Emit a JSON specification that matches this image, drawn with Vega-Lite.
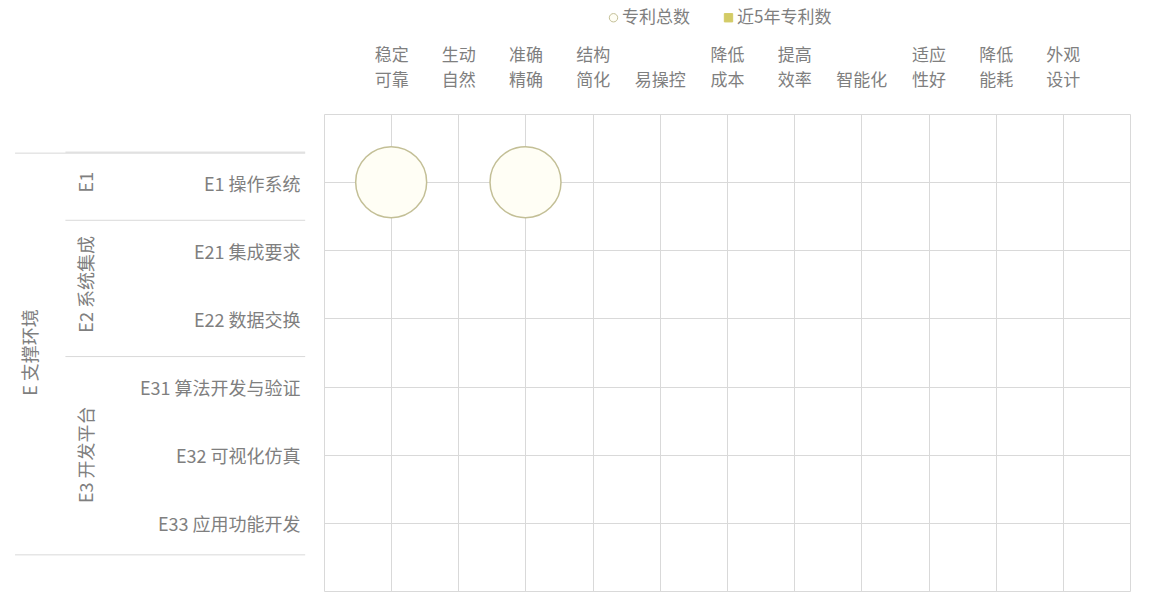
{
  "$schema": "https://vega.github.io/schema/vega-lite/v6.json",
  "autosize": {"type": "none"},
  "padding": {"left": 324, "top": 114, "right": 23, "bottom": 4},
  "width": 806,
  "height": 477,
  "background": "white",
  "config": {
    "font": "Noto Sans CJK SC",
    "view": {"stroke": "#d9d9d9", "strokeWidth": 1},
    "text": {"font": "Noto Sans CJK SC"}
  },
  "datasets": {
    "rows": [
      {"序号": 1, "一级": "E 支撑环境", "二级": "E1", "三级": "E1 操作系统"},
      {"序号": 2, "一级": "E 支撑环境", "二级": "E2 系统集成", "三级": "E21 集成要求"},
      {"序号": 3, "一级": "E 支撑环境", "二级": "E2 系统集成", "三级": "E22 数据交换"},
      {"序号": 4, "一级": "E 支撑环境", "二级": "E3 开发平台", "三级": "E31 算法开发与验证"},
      {"序号": 5, "一级": "E 支撑环境", "二级": "E3 开发平台", "三级": "E32 可视化仿真"},
      {"序号": 6, "一级": "E 支撑环境", "二级": "E3 开发平台", "三级": "E33 应用功能开发"}
    ],
    "cells": [
      {"三级": "E1 操作系统", "效果": "稳定可靠", "专利总数": 1, "近5年专利数": 0},
      {"三级": "E1 操作系统", "效果": "准确精确", "专利总数": 1, "近5年专利数": 0}
    ]
  },
  "layer": [
    {
      "data": {"name": "cells"},
      "transform": [
        {"fold": ["专利总数", "近5年专利数"], "as": ["指标", "数量"]},
        {"filter": "datum['数量'] > 0"}
      ],
      "mark": {"type": "point", "filled": true, "strokeWidth": 1.5, "opacity": 1},
      "encoding": {
        "x": {
          "field": "效果", "type": "nominal",
          "scale": {"type": "point", "padding": 1,
            "domain": ["稳定可靠", "生动自然", "准确精确", "结构简化", "易操控", "降低成本", "提高效率", "智能化", "适应性好", "降低能耗", "外观设计"]},
          "axis": {
            "orient": "top", "title": null, "ticks": false, "domain": false,
            "grid": true, "gridColor": "#d9d9d9", "gridWidth": 1,
            "labelAngle": 0, "labelFontSize": 17, "labelColor": "#7f7f7f",
            "labelFont": "Noto Sans CJK SC", "labelPadding": 59, "labelLineHeight": 25,
            "labelBaseline": "middle",
            "labelExpr": "length(datum.label) == 4 ? [substring(datum.label, 0, 2), substring(datum.label, 2, 4)] : ['', datum.label]"
          }
        },
        "y": {
          "field": "三级", "type": "nominal",
          "scale": {"type": "point", "padding": 1,
            "domain": ["E1 操作系统", "E21 集成要求", "E22 数据交换", "E31 算法开发与验证", "E32 可视化仿真", "E33 应用功能开发"]},
          "axis": {
            "title": null, "ticks": false, "domain": false,
            "grid": true, "gridColor": "#d9d9d9", "gridWidth": 1,
            "labelFontSize": 18, "labelColor": "#7f7f7f", "labelFont": "Noto Sans CJK SC",
            "labelPadding": 24, "labelOffset": 3
          }
        },
        "size": {"field": "数量", "type": "quantitative", "scale": {"domain": [0, 1], "range": [0, 5040]}, "legend": null},
        "fill": {
          "field": "指标", "type": "nominal",
          "scale": {"domain": ["专利总数", "近5年专利数"], "range": ["#fffef5", "#d3cb66"]},
          "legend": {
            "orient": "none", "legendX": 281, "legendY": -105, "direction": "horizontal",
            "title": null, "labelFontSize": 17, "labelColor": "#7f7f7f", "labelFont": "Noto Sans CJK SC",
            "symbolSize": 70, "symbolStrokeWidth": 1, "columnPadding": 30, "labelOffset": 0
          }
        },
        "stroke": {
          "field": "指标", "type": "nominal",
          "scale": {"domain": ["专利总数", "近5年专利数"], "range": ["#c3bf96", "#d3cb66"]}
        },
        "shape": {
          "field": "指标", "type": "nominal",
          "scale": {"domain": ["专利总数", "近5年专利数"], "range": ["circle", "square"]}
        }
      }
    },
    {
      "data": {"name": "rows"},
      "transform": [{"aggregate": [{"op": "mean", "field": "序号", "as": "中心"}], "groupby": ["二级"]}],
      "mark": {"type": "text", "angle": 270, "fontSize": 18, "color": "#7f7f7f", "align": "center", "baseline": "middle"},
      "encoding": {
        "x": {"datum": -3.52, "type": "quantitative", "scale": {"domain": [0, 12], "nice": false, "zero": false}, "axis": null},
        "y": {"field": "中心", "type": "quantitative", "scale": {"domain": [0, 7], "reverse": true, "nice": false, "zero": false}, "axis": null},
        "text": {"field": "二级"}
      }
    },
    {
      "data": {"name": "rows"},
      "transform": [{"aggregate": [{"op": "mean", "field": "序号", "as": "中心"}], "groupby": ["一级"]}],
      "mark": {"type": "text", "angle": 270, "fontSize": 18, "color": "#7f7f7f", "align": "center", "baseline": "middle"},
      "encoding": {
        "x": {"datum": -4.35, "type": "quantitative", "scale": {"domain": [0, 12], "nice": false, "zero": false}, "axis": null},
        "y": {"field": "中心", "type": "quantitative", "scale": {"domain": [0, 7], "reverse": true, "nice": false, "zero": false}, "axis": null},
        "text": {"field": "一级"}
      }
    },
    {
      "data": {"name": "rows"},
      "transform": [{"aggregate": [{"op": "min", "field": "序号", "as": "首行"}], "groupby": ["二级"]}],
      "mark": {"type": "rule", "color": "#d9d9d9", "strokeWidth": 1, "yOffset": -30},
      "encoding": {
        "x": {"datum": -3.85, "type": "quantitative", "scale": {"domain": [0, 12], "nice": false, "zero": false}, "axis": null},
        "x2": {"datum": -0.28},
        "y": {"field": "首行", "type": "quantitative", "scale": {"domain": [0, 7], "reverse": true, "nice": false, "zero": false}, "axis": null}
      }
    },
    {
      "data": {"name": "rows"},
      "transform": [{"aggregate": [{"op": "min", "field": "序号", "as": "首行"}], "groupby": ["一级"]}],
      "mark": {"type": "rule", "color": "#d9d9d9", "strokeWidth": 1, "yOffset": -29},
      "encoding": {
        "x": {"datum": -4.6, "type": "quantitative", "scale": {"domain": [0, 12], "nice": false, "zero": false}, "axis": null},
        "x2": {"datum": -0.28},
        "y": {"field": "首行", "type": "quantitative", "scale": {"domain": [0, 7], "reverse": true, "nice": false, "zero": false}, "axis": null}
      }
    },
    {
      "data": {"name": "rows"},
      "transform": [{"aggregate": [{"op": "max", "field": "序号", "as": "末行"}], "groupby": ["一级"]}],
      "mark": {"type": "rule", "color": "#d9d9d9", "strokeWidth": 1, "yOffset": 32},
      "encoding": {
        "x": {"datum": -4.6, "type": "quantitative", "scale": {"domain": [0, 12], "nice": false, "zero": false}, "axis": null},
        "x2": {"datum": -0.28},
        "y": {"field": "末行", "type": "quantitative", "scale": {"domain": [0, 7], "reverse": true, "nice": false, "zero": false}, "axis": null}
      }
    }
  ],
  "resolve": {"scale": {"x": "independent", "y": "independent"}, "axis": {"x": "independent", "y": "independent"}}
}
